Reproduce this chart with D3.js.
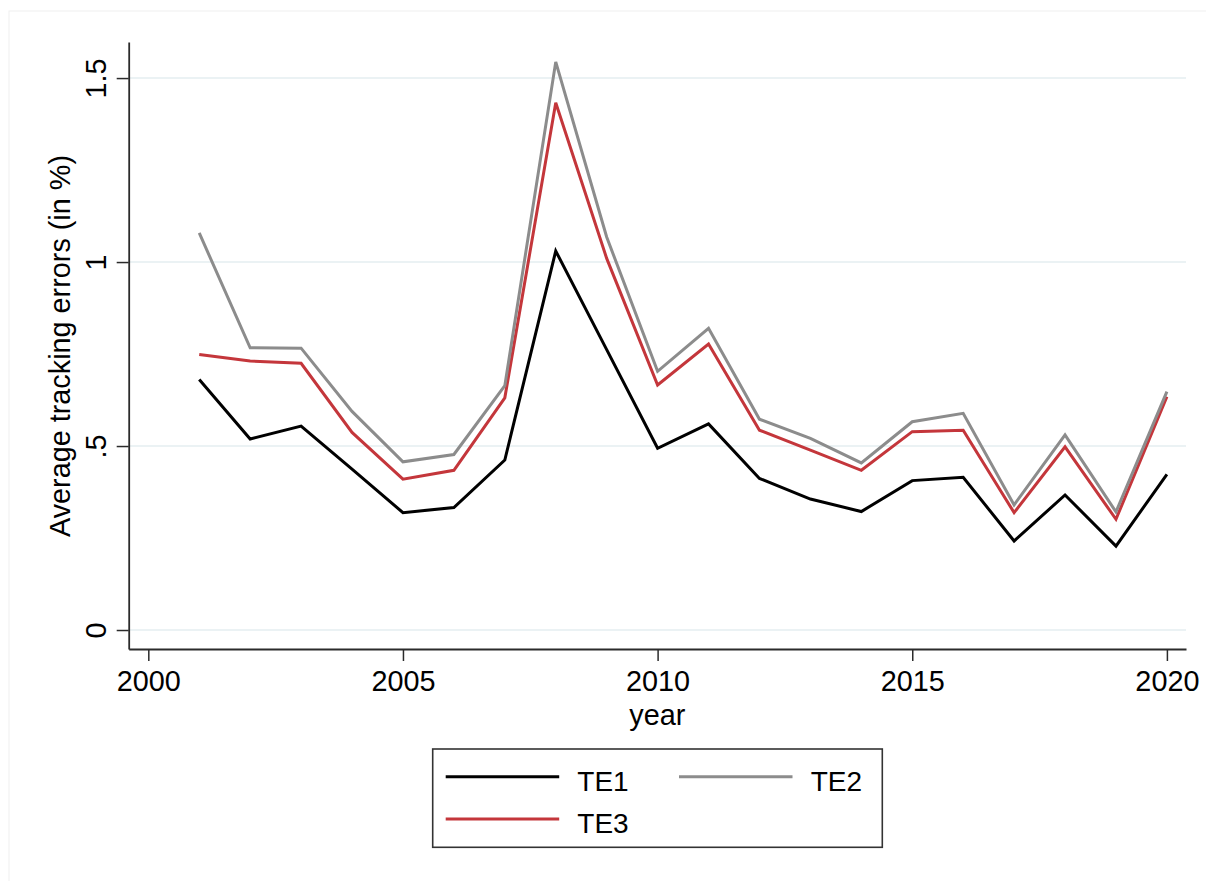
<!DOCTYPE html>
<html>
<head>
<meta charset="utf-8">
<script src="https://cdn.jsdelivr.net/npm/d3@7"></script>
<style>
  html, body { margin: 0; padding: 0; background: #fff; }
  svg { display: block; font-family: "Liberation Sans", Arial, Helvetica, sans-serif; }
</style>
</head>
<body>
<svg id="chart" width="1206" height="881"></svg>
<script>
// Average tracking errors by year, three measures
const years = [2001, 2002, 2003, 2004, 2005, 2006, 2007, 2008, 2009, 2010,
               2011, 2012, 2013, 2014, 2015, 2016, 2017, 2018, 2019, 2020];
const te1 = [0.681, 0.519, 0.554, 0.437, 0.319, 0.333, 0.462, 1.030, 0.762, 0.494,
             0.560, 0.412, 0.356, 0.322, 0.406, 0.415, 0.242, 0.367, 0.228, 0.423];
const te2 = [1.079, 0.767, 0.766, 0.594, 0.457, 0.477, 0.664, 1.544, 1.068, 0.703,
             0.820, 0.573, 0.521, 0.454, 0.566, 0.589, 0.340, 0.530, 0.321, 0.648];
const te3 = [0.749, 0.731, 0.725, 0.537, 0.410, 0.434, 0.631, 1.433, 1.010, 0.666,
             0.777, 0.543, 0.489, 0.434, 0.539, 0.543, 0.319, 0.498, 0.301, 0.634];
const seriesNames = ["TE1", "TE2", "TE3"];
const seriesColors = ["#000000", "#8c8c8c", "#c4363b"];
const xTicks = [2000, 2005, 2010, 2015, 2020];
const yTicks = [0, 0.5, 1, 1.5];
const yTickLabels = ["0", ".5", "1", "1.5"];

const series = [te1, te2, te3];

const svg = d3.select("#chart");

// faint outer graph-region frame
svg.append("rect")
  .attr("x", 9).attr("y", 11).attr("width", 1220).attr("height", 900)
  .attr("fill", "#fff").attr("stroke", "#efefef").attr("stroke-width", 1);

const plot = { left: 128.7, right: 1186, top: 42, bottom: 649 };

const x = d3.scaleLinear().domain([1999.615, 2020.375]).range([plot.left, plot.right]);
const y = d3.scaleLinear().domain([-0.0516, 1.598]).range([plot.bottom, plot.top]);

// horizontal grid lines
svg.append("g").selectAll("line").data(yTicks).join("line")
  .attr("x1", plot.left).attr("x2", plot.right)
  .attr("y1", d => y(d)).attr("y2", d => y(d))
  .attr("stroke", "#e5eef0").attr("stroke-width", 1.6);

// series lines
const line = d3.line().x((d, i) => x(years[i])).y(d => y(d));
const order = [0, 2, 1];
svg.append("g").selectAll("path").data(order.map(k => series[k])).join("path")
  .attr("d", d => line(d))
  .attr("fill", "none")
  .attr("stroke", (d, i) => seriesColors[order[i]])
  .attr("stroke-width", 3)
  .attr("stroke-linejoin", "miter");

// axes
const axisColor = "#2b2b2b";
const yAxis = svg.append("g")
  .attr("transform", `translate(${plot.left},0)`)
  .call(d3.axisLeft(y).tickValues(yTicks).tickSize(12).tickSizeOuter(0)
    .tickFormat((d, i) => yTickLabels[i]));
yAxis.select(".domain").attr("stroke", axisColor).attr("stroke-width", 1.8);
yAxis.selectAll(".tick line").attr("stroke", axisColor).attr("stroke-width", 1.5);
yAxis.selectAll(".tick text")
  .attr("x", 0).attr("y", 0).attr("dy", 0)
  .attr("text-anchor", "middle")
  .attr("transform", "translate(-22.7,0) rotate(-90)")
  .attr("fill", "#000")
  .style("font-size", "28.8px");

const xAxis = svg.append("g")
  .attr("transform", `translate(0,${plot.bottom})`)
  .call(d3.axisBottom(x).tickValues(xTicks).tickSize(12).tickSizeOuter(0)
    .tickFormat(d3.format("d")));
xAxis.select(".domain").attr("stroke", axisColor).attr("stroke-width", 1.8);
xAxis.selectAll(".tick line").attr("stroke", axisColor).attr("stroke-width", 1.5);
xAxis.selectAll(".tick text")
  .attr("y", 42).attr("dy", 0)
  .attr("fill", "#000")
  .style("font-size", "28.8px");

// axis titles
svg.append("text")
  .attr("x", (plot.left + plot.right) / 2).attr("y", 725)
  .attr("text-anchor", "middle").style("font-size", "28.8px")
  .text("year");
svg.append("text")
  .attr("transform", "translate(70,346) rotate(-90)")
  .attr("text-anchor", "middle").style("font-size", "28.8px")
  .text("Average tracking errors (in %)");

// legend
const legend = svg.append("g");
legend.append("rect")
  .attr("x", 432.7).attr("y", 749).attr("width", 449.6).attr("height", 98.3)
  .attr("fill", "#fff").attr("stroke", "#333").attr("stroke-width", 1.6);
const legendItems = [
  { k: 0, lx: 445.7, ly: 776.7, tx: 577.3, ty: 790.5 },
  { k: 1, lx: 679, ly: 776.7, tx: 810.7, ty: 790.5 },
  { k: 2, lx: 445.7, ly: 819, tx: 577.3, ty: 832.5 }
];
legendItems.forEach(it => {
  legend.append("line")
    .attr("x1", it.lx).attr("x2", it.lx + 113.5)
    .attr("y1", it.ly).attr("y2", it.ly)
    .attr("stroke", seriesColors[it.k]).attr("stroke-width", 3);
  legend.append("text")
    .attr("x", it.tx).attr("y", it.ty)
    .style("font-size", "28px")
    .text(seriesNames[it.k]);
});
</script>
</body>
</html>
